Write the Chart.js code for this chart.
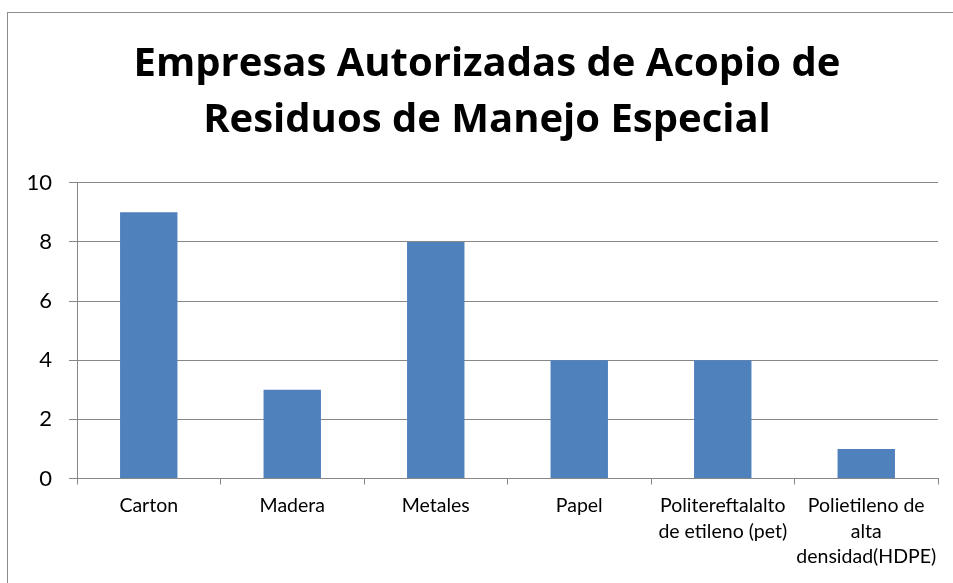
<!DOCTYPE html>
<html>
<head>
<meta charset="utf-8">
<script src="https://cdn.jsdelivr.net/npm/chart.js@4/dist/chart.umd.min.js"></script>
<style>
html,body{margin:0;padding:0;background:#fff;overflow:hidden;}
#wrap{position:relative;width:953px;height:583px;}
</style>
</head>
<body>
<div id="wrap"><canvas id="c" width="953" height="583"></canvas></div>
<script>
const titleLines = ["Empresas Autorizadas de Acopio de", "Residuos de Manejo Especial"];
const categories = [
  "Carton",
  "Madera",
  "Metales",
  "Papel",
  ["Politereftalalto", "de etileno (pet)"],
  ["Polietileno de", "alta", "densidad(HDPE)"]
];
const empresas = [9, 3, 8, 4, 4, 1];
const yTicks = [0, 2, 4, 6, 8, 10];

const FONT = "Lato, 'Open Sans', sans-serif";
const TITLE_FONT = "'Open Sans', Lato, sans-serif";
const GRID = "#878787";

const frame = {
  id: 'frame',
  beforeDraw(chart) {
    const ctx = chart.ctx;
    ctx.save();
    ctx.fillStyle = '#fff';
    ctx.fillRect(0, 0, chart.width, chart.height);
    ctx.strokeStyle = '#8c8c8c';
    ctx.lineWidth = 1;
    ctx.strokeRect(7.5, 12.5, 2000, 2000);
    ctx.restore();
  },
  afterLayout(chart) {
    // centre the title block the way the original chart is centred
    if (chart.titleBlock) {
      chart.titleBlock.left = 36;
      chart.titleBlock.width = chart.titleBlock.right - 36;
    }
  }
};

new Chart(document.getElementById('c'), {
  type: 'bar',
  data: {
    labels: categories,
    datasets: [{
      data: empresas,
      backgroundColor: '#4F81BD',
      borderWidth: 0,
      categoryPercentage: 1.0,
      barPercentage: 0.4
    }]
  },
  options: {
    responsive: false,
    animation: false,
    devicePixelRatio: 1,
    layout: { padding: { top: 12, left: 0, right: 15, bottom: 0 } },
    plugins: {
      legend: { display: false },
      tooltip: { enabled: false },
      title: {
        display: true,
        text: titleLines,
        color: '#000',
        font: { family: TITLE_FONT, size: 40, weight: 'bold', lineHeight: 1.41 },
        padding: { top: 24, bottom: 34 }
      }
    },
    scales: {
      x: {
        grid: {
          display: true,
          drawOnChartArea: false,
          drawTicks: true,
          tickLength: 6,
          color: GRID,
          offset: true
        },
        border: { display: true, color: GRID, width: 1 },
        ticks: {
          color: '#000',
          font: { family: FONT, size: 19.5, lineHeight: 1.3 },
          padding: 9,
          maxRotation: 0,
          autoSkip: false
        },
        afterFit(scale) { scale.height = 104.5; }
      },
      y: {
        min: 0,
        max: 10,
        afterBuildTicks(scale) { scale.ticks = yTicks.map(v => ({ value: v })); },
        grid: {
          color: GRID,
          drawTicks: true,
          tickLength: 8
        },
        border: { display: true, color: GRID, width: 1 },
        ticks: {
          color: '#000',
          font: { family: FONT, size: 22 },
          padding: 17
        },
        afterFit(scale) { scale.width = 77; }
      }
    }
  },
  plugins: [frame]
});
</script>
</body>
</html>
